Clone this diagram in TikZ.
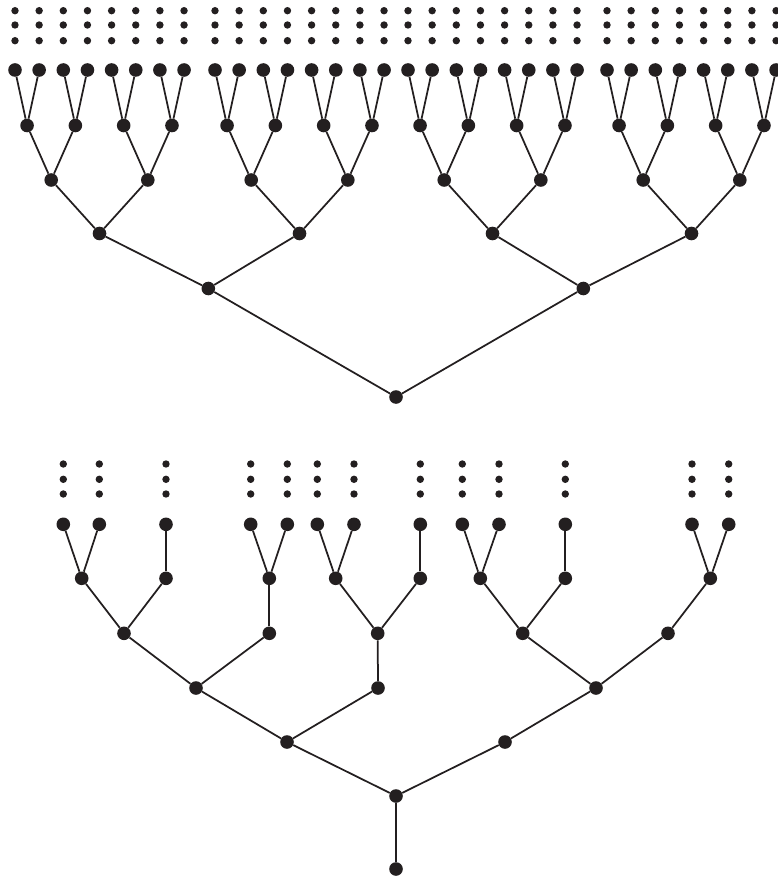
\documentclass[tikz,border=0pt]{standalone}
\usetikzlibrary{calc}
\definecolor{ink}{HTML}{231F20}
\begin{document}
\begin{tikzpicture}[x=1pt,y=-1pt,
  vertex/.style={circle,fill=ink,inner sep=0pt,minimum size=13.6pt},
  seed/.style={circle,fill=ink,inner sep=0pt,minimum size=7.4pt},
  branch/.style={draw=ink,line width=1.75pt}]
\useasboundingbox (0,0) rectangle (777,877);

% ---------- complete binary tree (upper) ----------
% leaves with continuation dots above them
\foreach \g/\s in {0/15,1/215,2/408,3/607}{
  \foreach \k in {0,...,7}{
    \pgfmathtruncatemacro\i{8*\g+\k+1}
    \pgfmathsetmacro\xx{\s+24.15*\k}
    \node[vertex] (L\i) at (\xx,70) {};
    \foreach \yy [count=\j] in {10.7,25,40.7}
      \node[seed] (L\i d\j) at (\xx,\yy) {};
  }
  \foreach \k in {0,...,3}{
    \pgfmathtruncatemacro\i{4*\g+\k+1}
    \node[vertex] (A\i) at ({\s+12.075+48.3*\k},125.5) {};
  }
  \foreach \k in {0,1}{
    \pgfmathtruncatemacro\i{2*\g+\k+1}
    \node[vertex] (B\i) at ({\s+36.2+96.6*\k},180) {};
  }
  \pgfmathtruncatemacro\i{\g+1}
  \node[vertex] (C\i) at ({\s+84.5},233.5) {};
}
\node[vertex] (D1) at (208.3,288.5) {};
\node[vertex] (D2) at (583.3,288.5) {};
\node[vertex] (R)  at (396,397) {};

\foreach \i in {1,...,16}{
  \pgfmathtruncatemacro\a{2*\i-1}
  \pgfmathtruncatemacro\b{2*\i}
  \draw[branch] (A\i) -- (L\a);
  \draw[branch] (A\i) -- (L\b);
}
\foreach \i in {1,...,8}{
  \pgfmathtruncatemacro\a{2*\i-1}
  \pgfmathtruncatemacro\b{2*\i}
  \draw[branch] (B\i) -- (A\a);
  \draw[branch] (B\i) -- (A\b);
}
\foreach \i in {1,...,4}{
  \pgfmathtruncatemacro\a{2*\i-1}
  \pgfmathtruncatemacro\b{2*\i}
  \draw[branch] (C\i) -- (B\a);
  \draw[branch] (C\i) -- (B\b);
}
\draw[branch] (D1) -- (C1);
\draw[branch] (D1) -- (C2);
\draw[branch] (D2) -- (C3);
\draw[branch] (D2) -- (C4);
\draw[branch] (R) -- (D1);
\draw[branch] (R) -- (D2);

% ---------- pruned tree (lower) ----------
\foreach \xx [count=\i] in {63.3,99.3,166,250.7,287.3,317.3,354,420.3,462.3,499,565.3,692,728.7}{
  \node[vertex] (b\i) at (\xx,524.3) {};
  \foreach \yy [count=\j] in {464,479.3,494}
    \node[seed] (b\i d\j) at (\xx,\yy) {};
}
\foreach \xx [count=\i] in {81.7,166,269.3,335.7,420.3,480.3,565.3,710.3}
  \node[vertex] (p\i) at (\xx,578.3) {};
\foreach \xx [count=\i] in {124,269.3,377.7,522.7,668}
  \node[vertex] (q\i) at (\xx,633.3) {};
\foreach \xx [count=\i] in {196,378,596}
  \node[vertex] (r\i) at (\xx,688) {};
\node[vertex] (s1) at (287,742) {};
\node[vertex] (s2) at (505,742) {};
\node[vertex] (t1) at (396,796) {};
\node[vertex] (u1) at (396,869) {};

\foreach \a/\b in {u1/t1, t1/s1, t1/s2,
  s1/r1, s1/r2, s2/r3,
  r1/q1, r1/q2, r2/q3, r3/q4, r3/q5,
  q1/p1, q1/p2, q2/p3, q3/p4, q3/p5, q4/p6, q4/p7, q5/p8,
  p1/b1, p1/b2, p2/b3, p3/b4, p3/b5, p4/b6, p4/b7, p5/b8,
  p6/b9, p6/b10, p7/b11, p8/b12, p8/b13}
  \draw[branch] (\a) -- (\b);
\end{tikzpicture}
\end{document}
